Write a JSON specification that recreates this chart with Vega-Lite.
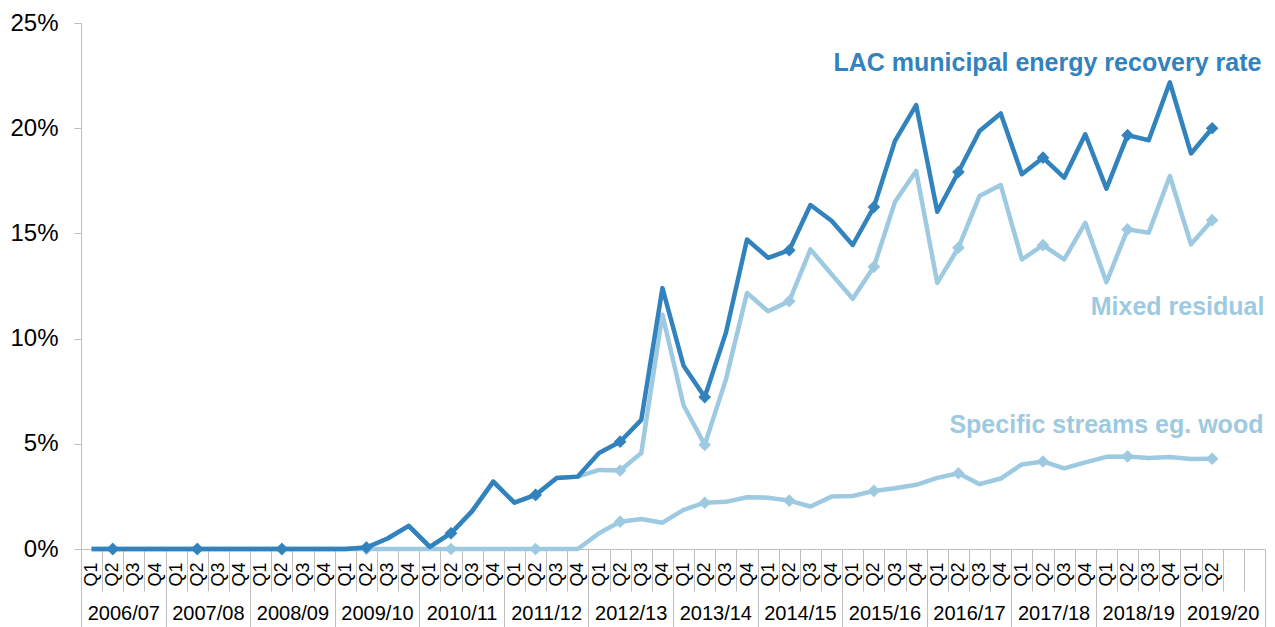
{
  "$schema": "https://vega.github.io/schema/vega-lite/v6.json",
  "width": 1184,
  "height": 526,
  "autosize": {"type": "none"},
  "padding": {"left": 81, "top": 23, "right": 10, "bottom": 78},
  "background": "white",
  "config": {"view": {"stroke": null}, "font": "Liberation Sans"},
  "datasets": {
    "q": [
      {"s": "2006/07 Q1", "yr": "2006/07", "q": "Q1", "t": 0, "m": 0, "w": 0},
      {"s": "2006/07 Q2", "yr": "2006/07", "q": "Q2", "t": 0, "m": 0, "w": 0},
      {"s": "2006/07 Q3", "yr": "2006/07", "q": "Q3", "t": 0, "m": 0, "w": 0},
      {"s": "2006/07 Q4", "yr": "2006/07", "q": "Q4", "t": 0, "m": 0, "w": 0},
      {"s": "2007/08 Q1", "yr": "2007/08", "q": "Q1", "t": 0, "m": 0, "w": 0},
      {"s": "2007/08 Q2", "yr": "2007/08", "q": "Q2", "t": 0, "m": 0, "w": 0},
      {"s": "2007/08 Q3", "yr": "2007/08", "q": "Q3", "t": 0, "m": 0, "w": 0},
      {"s": "2007/08 Q4", "yr": "2007/08", "q": "Q4", "t": 0, "m": 0, "w": 0},
      {"s": "2008/09 Q1", "yr": "2008/09", "q": "Q1", "t": 0, "m": 0, "w": 0},
      {"s": "2008/09 Q2", "yr": "2008/09", "q": "Q2", "t": 0, "m": 0, "w": 0},
      {"s": "2008/09 Q3", "yr": "2008/09", "q": "Q3", "t": 0, "m": 0, "w": 0},
      {"s": "2008/09 Q4", "yr": "2008/09", "q": "Q4", "t": 0, "m": 0, "w": 0},
      {"s": "2009/10 Q1", "yr": "2009/10", "q": "Q1", "t": 0, "m": 0, "w": 0},
      {"s": "2009/10 Q2", "yr": "2009/10", "q": "Q2", "t": 0.07, "m": 0.07, "w": 0},
      {"s": "2009/10 Q3", "yr": "2009/10", "q": "Q3", "t": 0.5, "m": 0.5, "w": 0},
      {"s": "2009/10 Q4", "yr": "2009/10", "q": "Q4", "t": 1.1, "m": 1.1, "w": 0},
      {"s": "2010/11 Q1", "yr": "2010/11", "q": "Q1", "t": 0.1, "m": 0.1, "w": 0},
      {"s": "2010/11 Q2", "yr": "2010/11", "q": "Q2", "t": 0.75, "m": 0.75, "w": 0},
      {"s": "2010/11 Q3", "yr": "2010/11", "q": "Q3", "t": 1.8, "m": 1.8, "w": 0},
      {"s": "2010/11 Q4", "yr": "2010/11", "q": "Q4", "t": 3.2, "m": 3.2, "w": 0},
      {"s": "2011/12 Q1", "yr": "2011/12", "q": "Q1", "t": 2.2, "m": 2.2, "w": 0},
      {"s": "2011/12 Q2", "yr": "2011/12", "q": "Q2", "t": 2.57, "m": 2.57, "w": 0},
      {"s": "2011/12 Q3", "yr": "2011/12", "q": "Q3", "t": 3.37, "m": 3.37, "w": 0},
      {"s": "2011/12 Q4", "yr": "2011/12", "q": "Q4", "t": 3.44, "m": 3.44, "w": 0},
      {"s": "2012/13 Q1", "yr": "2012/13", "q": "Q1", "t": 4.56, "m": 3.76, "w": 0.75},
      {"s": "2012/13 Q2", "yr": "2012/13", "q": "Q2", "t": 5.1, "m": 3.73, "w": 1.3},
      {"s": "2012/13 Q3", "yr": "2012/13", "q": "Q3", "t": 6.14, "m": 4.56, "w": 1.43},
      {"s": "2012/13 Q4", "yr": "2012/13", "q": "Q4", "t": 12.4, "m": 11.14, "w": 1.25},
      {"s": "2013/14 Q1", "yr": "2013/14", "q": "Q1", "t": 8.71, "m": 6.83, "w": 1.86},
      {"s": "2013/14 Q2", "yr": "2013/14", "q": "Q2", "t": 7.22, "m": 4.95, "w": 2.2},
      {"s": "2013/14 Q3", "yr": "2013/14", "q": "Q3", "t": 10.27, "m": 8.05, "w": 2.24},
      {"s": "2013/14 Q4", "yr": "2013/14", "q": "Q4", "t": 14.71, "m": 12.17, "w": 2.46},
      {"s": "2014/15 Q1", "yr": "2014/15", "q": "Q1", "t": 13.84, "m": 11.3, "w": 2.44},
      {"s": "2014/15 Q2", "yr": "2014/15", "q": "Q2", "t": 14.2, "m": 11.78, "w": 2.3},
      {"s": "2014/15 Q3", "yr": "2014/15", "q": "Q3", "t": 16.35, "m": 14.24, "w": 2.02},
      {"s": "2014/15 Q4", "yr": "2014/15", "q": "Q4", "t": 15.6, "m": 13.06, "w": 2.49},
      {"s": "2015/16 Q1", "yr": "2015/16", "q": "Q1", "t": 14.45, "m": 11.89, "w": 2.52},
      {"s": "2015/16 Q2", "yr": "2015/16", "q": "Q2", "t": 16.25, "m": 13.41, "w": 2.76},
      {"s": "2015/16 Q3", "yr": "2015/16", "q": "Q3", "t": 19.4, "m": 16.5, "w": 2.89},
      {"s": "2015/16 Q4", "yr": "2015/16", "q": "Q4", "t": 21.1, "m": 17.97, "w": 3.05},
      {"s": "2016/17 Q1", "yr": "2016/17", "q": "Q1", "t": 16.03, "m": 12.65, "w": 3.38},
      {"s": "2016/17 Q2", "yr": "2016/17", "q": "Q2", "t": 17.92, "m": 14.32, "w": 3.6},
      {"s": "2016/17 Q3", "yr": "2016/17", "q": "Q3", "t": 19.87, "m": 16.78, "w": 3.08},
      {"s": "2016/17 Q4", "yr": "2016/17", "q": "Q4", "t": 20.7, "m": 17.3, "w": 3.35},
      {"s": "2017/18 Q1", "yr": "2017/18", "q": "Q1", "t": 17.81, "m": 13.76, "w": 4.02},
      {"s": "2017/18 Q2", "yr": "2017/18", "q": "Q2", "t": 18.6, "m": 14.44, "w": 4.16},
      {"s": "2017/18 Q3", "yr": "2017/18", "q": "Q3", "t": 17.65, "m": 13.76, "w": 3.83},
      {"s": "2017/18 Q4", "yr": "2017/18", "q": "Q4", "t": 19.71, "m": 15.5, "w": 4.12},
      {"s": "2018/19 Q1", "yr": "2018/19", "q": "Q1", "t": 17.13, "m": 12.68, "w": 4.38},
      {"s": "2018/19 Q2", "yr": "2018/19", "q": "Q2", "t": 19.67, "m": 15.19, "w": 4.4},
      {"s": "2018/19 Q3", "yr": "2018/19", "q": "Q3", "t": 19.43, "m": 15.03, "w": 4.33},
      {"s": "2018/19 Q4", "yr": "2018/19", "q": "Q4", "t": 22.18, "m": 17.73, "w": 4.37},
      {"s": "2019/20 Q1", "yr": "2019/20", "q": "Q1", "t": 18.8, "m": 14.48, "w": 4.28},
      {"s": "2019/20 Q2", "yr": "2019/20", "q": "Q2", "t": 20.0, "m": 15.63, "w": 4.29}
    ]
  },
  "data": {"name": "q"},
  "resolve": {"scale": {"x": "independent"}, "axis": {"x": "independent"}},
  "layer": [
    {
      "encoding": {
        "x": {
          "field": "s",
          "type": "ordinal",
          "bandPosition": 0.5,
          "scale": {
            "type": "band",
            "paddingInner": 0,
            "paddingOuter": 0,
            "domain": [
              "2006/07 Q1", "2006/07 Q2", "2006/07 Q3", "2006/07 Q4",
              "2007/08 Q1", "2007/08 Q2", "2007/08 Q3", "2007/08 Q4",
              "2008/09 Q1", "2008/09 Q2", "2008/09 Q3", "2008/09 Q4",
              "2009/10 Q1", "2009/10 Q2", "2009/10 Q3", "2009/10 Q4",
              "2010/11 Q1", "2010/11 Q2", "2010/11 Q3", "2010/11 Q4",
              "2011/12 Q1", "2011/12 Q2", "2011/12 Q3", "2011/12 Q4",
              "2012/13 Q1", "2012/13 Q2", "2012/13 Q3", "2012/13 Q4",
              "2013/14 Q1", "2013/14 Q2", "2013/14 Q3", "2013/14 Q4",
              "2014/15 Q1", "2014/15 Q2", "2014/15 Q3", "2014/15 Q4",
              "2015/16 Q1", "2015/16 Q2", "2015/16 Q3", "2015/16 Q4",
              "2016/17 Q1", "2016/17 Q2", "2016/17 Q3", "2016/17 Q4",
              "2017/18 Q1", "2017/18 Q2", "2017/18 Q3", "2017/18 Q4",
              "2018/19 Q1", "2018/19 Q2", "2018/19 Q3", "2018/19 Q4",
              "2019/20 Q1", "2019/20 Q2", "2019/20 Q3", "2019/20 Q4"
            ]
          },
          "axis": {
            "title": null,
            "orient": "bottom",
            "domainColor": "#bfbfbf",
            "domainWidth": 1,
            "tickColor": "#bfbfbf",
            "tickWidth": 1,
            "tickBand": "extent",
            "tickSize": 42,
            "labelAngle": 270,
            "labelAlign": "right",
            "labelBaseline": "middle",
            "labelPadding": -29,
            "labelFontSize": 18,
            "labelFont": "Liberation Sans",
            "labelColor": "#000000",
            "labelOverlap": false,
            "labelExpr": "(datum.value == '2019/20 Q3' || datum.value == '2019/20 Q4') ? '' : split(datum.value, ' ')[1]"
          }
        }
      },
      "layer": [
        {
          "mark": {"type": "line", "color": "#9ECAE1", "strokeWidth": 4.5, "strokeJoin": "round"},
          "encoding": {
            "y": {
              "field": "w",
              "type": "quantitative",
              "scale": {"domain": [0, 25], "nice": false},
              "axis": {
                "title": null,
                "grid": false,
                "values": [0, 5, 10, 15, 20, 25],
                "labelExpr": "datum.value + '%'",
                "domainColor": "#bfbfbf",
                "tickColor": "#bfbfbf",
                "tickSize": 7,
                "labelPadding": 16,
                "labelFontSize": 24,
                "labelFont": "Liberation Sans",
                "labelColor": "#000000"
              }
            }
          }
        },
        {
          "transform": [{"filter": "datum.q == 'Q2'"}],
          "mark": {"type": "point", "shape": "diamond", "filled": true, "size": 160, "color": "#9ECAE1", "opacity": 1},
          "encoding": {"y": {"field": "w", "type": "quantitative"}}
        },
        {
          "mark": {"type": "line", "color": "#9ECAE1", "strokeWidth": 4.5, "strokeJoin": "round"},
          "encoding": {"y": {"field": "m", "type": "quantitative"}}
        },
        {
          "transform": [{"filter": "datum.q == 'Q2'"}],
          "mark": {"type": "point", "shape": "diamond", "filled": true, "size": 160, "color": "#9ECAE1", "opacity": 1},
          "encoding": {"y": {"field": "m", "type": "quantitative"}}
        },
        {
          "mark": {"type": "line", "color": "#3182BD", "strokeWidth": 4.5, "strokeJoin": "round"},
          "encoding": {"y": {"field": "t", "type": "quantitative"}}
        },
        {
          "transform": [{"filter": "datum.q == 'Q2'"}],
          "mark": {"type": "point", "shape": "diamond", "filled": true, "size": 160, "color": "#3182BD", "opacity": 1},
          "encoding": {"y": {"field": "t", "type": "quantitative"}}
        },
        {
          "data": {"values": [{"label": "LAC municipal energy recovery rate"}]},
          "mark": {"type": "text", "align": "right", "baseline": "middle", "dx": 7, "fontSize": 25, "fontWeight": "bold", "font": "Liberation Sans", "color": "#3182BD"},
          "encoding": {
            "x": {"datum": "2019/20 Q4", "bandPosition": 0.5},
            "y": {"datum": 23.1},
            "text": {"field": "label"}
          }
        },
        {
          "data": {"values": [{"label": "Mixed residual"}]},
          "mark": {"type": "text", "align": "right", "baseline": "middle", "dx": 10, "fontSize": 25, "fontWeight": "bold", "font": "Liberation Sans", "color": "#9ECAE1"},
          "encoding": {
            "x": {"datum": "2019/20 Q4", "bandPosition": 0.5},
            "y": {"datum": 11.5},
            "text": {"field": "label"}
          }
        },
        {
          "data": {"values": [{"label": "Specific streams eg. wood"}]},
          "mark": {"type": "text", "align": "right", "baseline": "middle", "dx": 9, "fontSize": 25, "fontWeight": "bold", "font": "Liberation Sans", "color": "#9ECAE1"},
          "encoding": {
            "x": {"datum": "2019/20 Q4", "bandPosition": 0.5},
            "y": {"datum": 5.89},
            "text": {"field": "label"}
          }
        }
      ]
    },
    {
      "mark": {"type": "rule", "opacity": 0},
      "encoding": {
        "x": {
          "field": "yr",
          "type": "ordinal",
          "scale": {
            "type": "band",
            "paddingInner": 0,
            "paddingOuter": 0,
            "domain": ["2006/07", "2007/08", "2008/09", "2009/10", "2010/11", "2011/12", "2012/13", "2013/14", "2014/15", "2015/16", "2016/17", "2017/18", "2018/19", "2019/20"]
          },
          "axis": {
            "title": null,
            "orient": "bottom",
            "offset": 0,
            "domain": false,
            "tickBand": "extent",
            "tickSize": 78,
            "tickColor": "#bfbfbf",
            "tickWidth": 1,
            "labelAngle": 0,
            "labelAlign": "center",
            "labelBaseline": "top",
            "labelPadding": -24,
            "labelFontSize": 20,
            "labelFont": "Liberation Sans",
            "labelColor": "#000000",
            "labelOverlap": false
          }
        }
      }
    }
  ]
}
